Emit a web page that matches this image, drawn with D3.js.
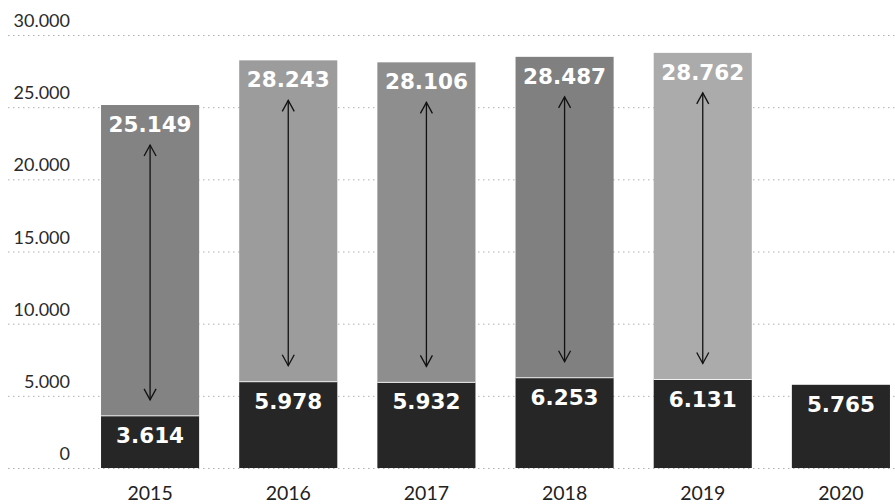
<!DOCTYPE html>
<html><head><meta charset="utf-8">
<script src="https://cdn.jsdelivr.net/npm/d3@7"></script>
<style>body{margin:0;background:#fff}svg{display:block}</style>
</head><body><svg id="c" width="895" height="504"></svg>
<script>
const years = ["2015","2016","2017","2018","2019","2020"];
const totals = [25149, 28243, 28106, 28487, 28762, null];
const bases = [3614, 5978, 5932, 6253, 6131, 5765];
const yTicks = [0, 5000, 10000, 15000, 20000, 25000, 30000];
const topShades = ["#838383","#9c9c9c","#8e8e8e","#808080","#ababab",null];

const svg = d3.select("#c");
const fmt = v => d3.format(",")(v).replace(/,/g, ".");
const x = d3.scaleBand().domain(years).range([81, 910]).paddingInner(0.29).paddingOuter(0.145);
const y = d3.scaleLinear().domain([0, 30000]).range([468, 35]);

// gridlines
svg.append("g").selectAll("line").data(yTicks).join("line")
  .attr("x1", 8).attr("x2", 895)
  .attr("y1", d => y(d) + 0.5).attr("y2", d => y(d) + 0.5)
  .attr("stroke", "#b0b0b0").attr("stroke-width", 1)
  .attr("stroke-dasharray", "1.5,3.5");

// y tick labels
svg.append("g").selectAll("text").data(yTicks).join("text")
  .attr("x", 70).attr("y", d => y(d) - 8)
  .attr("text-anchor", "end")
  .attr("font-family", "Lato, 'Open Sans', sans-serif")
  .attr("font-weight", 400)
  .attr("font-size", 18).attr("fill", "#2a2a2a")
  .text(d => fmt(d));

const data = years.map((yr, i) => ({yr, total: totals[i], base: bases[i], shade: topShades[i]}));

// top bars
svg.append("g").selectAll("rect").data(data.filter(d => d.total)).join("rect")
  .attr("x", d => x(d.yr)).attr("width", x.bandwidth())
  .attr("y", d => y(d.total)).attr("height", d => y(d.base) - y(d.total))
  .attr("fill", d => d.shade);

// base bars
svg.append("g").selectAll("rect").data(data).join("rect")
  .attr("x", d => x(d.yr)).attr("width", x.bandwidth())
  .attr("y", d => y(d.base)).attr("height", d => y(0) - y(d.base))
  .attr("fill", "#262626");

// separator line between top and base
svg.append("g").selectAll("line").data(data.filter(d => d.total)).join("line")
  .attr("x1", d => x(d.yr)).attr("x2", d => x(d.yr) + x.bandwidth())
  .attr("y1", d => y(d.base)).attr("y2", d => y(d.base))
  .attr("stroke", "#f0f0f0").attr("stroke-width", 1);

// arrows
const ag = svg.append("g").attr("stroke", "#111").attr("stroke-width", 1.3).attr("fill", "none");
data.filter(d => d.total).forEach(d => {
  const cx = x(d.yr) + x.bandwidth() / 2;
  const y1 = y(d.total) + 40, y2 = y(d.base) - 16;
  ag.append("line").attr("x1", cx).attr("x2", cx).attr("y1", y1).attr("y2", y2);
  ag.append("path").attr("d", `M${cx-6},${y1+11}L${cx},${y1}L${cx+6},${y1+11}`);
  ag.append("path").attr("d", `M${cx-6},${y2-11}L${cx},${y2}L${cx+6},${y2-11}`);
});

// value labels
const lab = svg.append("g").attr("font-family", "'DejaVu Sans', sans-serif")
  .attr("font-weight", "bold").attr("font-size", 21.5).attr("fill", "#fff")
  .attr("text-anchor", "middle");
data.filter(d => d.total).forEach(d => {
  lab.append("text").attr("x", x(d.yr) + x.bandwidth() / 2).attr("y", y(d.total) + 27).text(fmt(d.total));
});
data.forEach(d => {
  lab.append("text").attr("x", x(d.yr) + x.bandwidth() / 2).attr("y", y(d.base) + 27).text(fmt(d.base));
});

// year labels
svg.append("g").selectAll("text").data(years).join("text")
  .attr("x", d => x(d) + x.bandwidth() / 2).attr("y", 500)
  .attr("text-anchor", "middle")
  .attr("font-family", "Lato, 'Open Sans', sans-serif")
  .attr("font-weight", 400)
  .attr("font-size", 19.5).attr("fill", "#222")
  .text(d => d);
</script></body></html>
